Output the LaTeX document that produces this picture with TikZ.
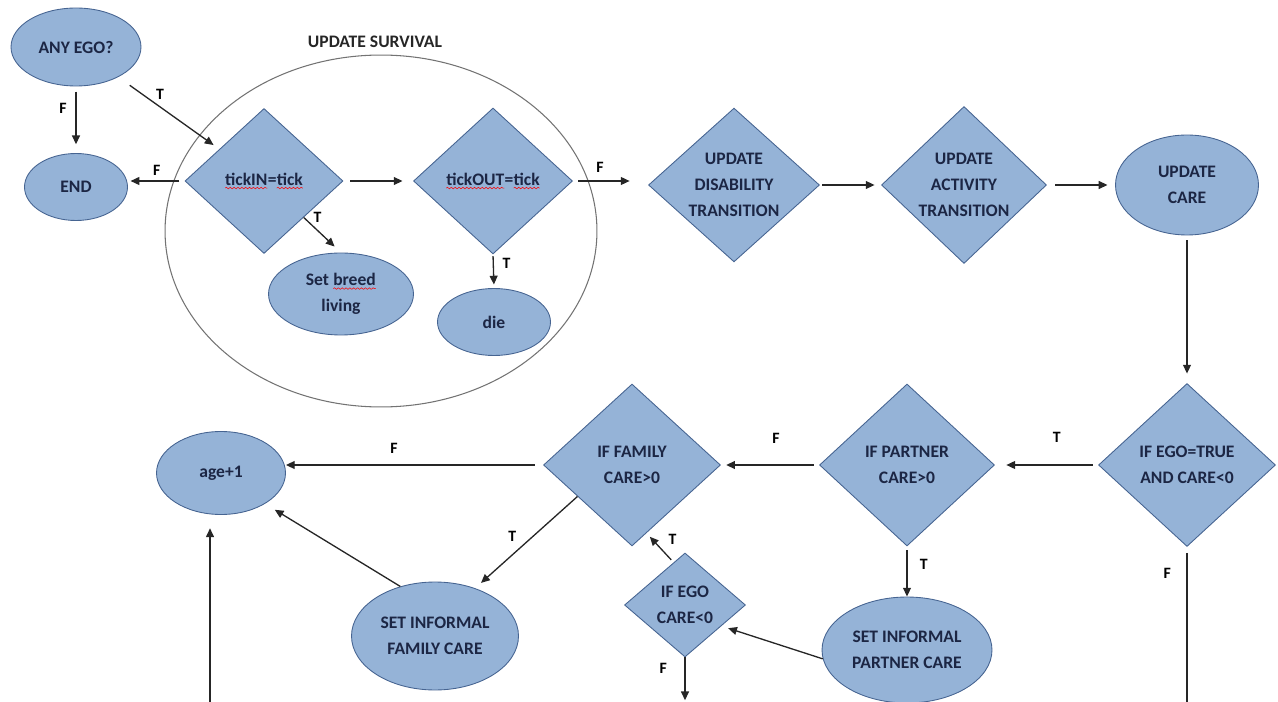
\documentclass[tikz,border=0pt]{standalone}
\usepackage{fontspec}
\setmainfont{Carlito}
\usetikzlibrary{shapes.geometric,arrows.meta,decorations.pathmorphing}
\definecolor{shapefill}{RGB}{149,179,215}
\definecolor{shapeline}{RGB}{70,100,145}
\definecolor{shapetext}{RGB}{28,38,68}
\newcommand{\spell}[1]{\tikz[baseline=(sp.base)]{\node[rectangle,draw=none,fill=none,inner sep=0pt,outer sep=0pt,minimum size=0pt] (sp) {#1};\draw[red,fill=none,line width=.3pt,decorate,decoration={snake,amplitude=.45pt,segment length=2.2pt}] ([yshift=-1.6pt]sp.base west) -- ([yshift=-1.6pt]sp.base east);}}
\begin{document}
\begin{tikzpicture}[x=0.02cm,y=-0.02cm,
    decision/.style={diamond,draw=shapeline,fill=shapefill,line width=.5pt,inner sep=0pt,
      text=shapetext,font=\bfseries\fontsize{10}{14.7}\selectfont,align=center},
    oval/.style={ellipse,draw=shapeline,fill=shapefill,line width=.5pt,inner sep=0pt,
      text=shapetext,font=\bfseries\fontsize{10}{14.7}\selectfont,align=center},
    flow/.style={-{Triangle[length=5pt,width=4.5pt]},line width=.75pt,draw=black!85},
    tf/.style={font=\bfseries\fontsize{9}{9}\selectfont,inner sep=1pt}]
  \useasboundingbox (0,0) rectangle (1278,702);
  \draw
    (381,231) node[ellipse,draw=black!55,line width=.6pt,minimum width=8.64cm,minimum height=7.04cm] (survival){}
    (375,42) node[font=\bfseries\fontsize{10}{12}\selectfont,text=black!85] (survlabel){UPDATE SURVIVAL};
  \draw
    (76,47) node[oval,minimum width=2.6cm,minimum height=1.56cm] (anyego){ANY EGO?}
    (76,187) node[oval,minimum width=2.06cm,minimum height=1.34cm] (endnode){END}
    (264,181) node[decision,minimum width=3.16cm,minimum height=2.9cm] (tickin){\spell{tickIN}=\spell{tick}}
    (493,181) node[decision,minimum width=3.18cm,minimum height=2.92cm] (tickout){\spell{tickOUT}=\spell{tick}}
    (341,294) node[oval,minimum width=2.9cm,minimum height=1.64cm] (breed){Set \spell{breed}\\living}
    (494,322) node[oval,minimum width=2.26cm,minimum height=1.34cm] (die){die}
    (734,185) node[decision,minimum width=3.42cm,minimum height=2.88cm] (disab){UPDATE\\DISABILITY\\TRANSITION}
    (964,185) node[decision,minimum width=3.3cm,minimum height=3.14cm] (activ){UPDATE\\ACTIVITY\\TRANSITION}
    (1187,185) node[oval,minimum width=2.86cm,minimum height=2cm] (care){UPDATE\\CARE}
    (1187,465) node[decision,minimum width=3.54cm,minimum height=3.26cm] (egotrue){IF EGO=TRUE\\AND CARE<0}
    (907,465) node[decision,minimum width=3.5cm,minimum height=3.24cm] (partner){IF PARTNER\\CARE>0}
    (632,465) node[decision,minimum width=3.54cm,minimum height=3.24cm] (family){IF FAMILY\\CARE>0}
    (221,473) node[oval,minimum width=2.58cm,minimum height=1.66cm] (age){age+1}
    (435,636) node[oval,minimum width=3.34cm,minimum height=2.16cm] (setfam){SET INFORMAL\\FAMILY CARE}
    (685,605) node[decision,minimum width=2.42cm,minimum height=2.08cm] (egocare){IF EGO\\CARE<0}
    (907,650) node[oval,minimum width=3.4cm,minimum height=2.12cm] (setpartner){SET INFORMAL\\PARTNER CARE};
  \coordinate (egoout) at (685,702);
  \coordinate (carefout) at (1187,702);
  \coordinate (agein) at (210,702);
  \begin{scope}[flow]
    \draw[shorten <=3pt,shorten >=5pt] (anyego.south) to node[tf,left=4pt,pos=.33]{F} (endnode.north);
    \draw[shorten <=8pt,shorten >=4pt] (anyego) to node[tf,above right,pos=.35]{T} (tickin);
    \draw[shorten <=3pt,shorten >=1.5pt] (tickin.west) to node[tf,above=1.5pt,pos=.49]{F} (endnode.east |- tickin.west);
    \draw[shorten <=4pt,shorten >=6pt] (tickin) to (tickout);
    \draw[shorten >=5pt] (tickin.south east) to node[tf,above right,pos=.2]{T} (breed.north);
    \draw[shorten <=1pt,shorten >=2pt] (tickout.south) to node[tf,right=4pt,pos=.26]{T} (die.north);
    \draw[shorten <=3pt,shorten >=10.5pt] (tickout.east) to node[tf,above=3.7pt,pos=.36]{F} (disab.west |- tickout.east);
    \draw[shorten <=1.4pt,shorten >=3.7pt] (disab) to (activ);
    \draw[shorten <=4.8pt,shorten >=4.3pt] (activ) to (care);
    \draw[shorten <=2.8pt,shorten >=5.4pt] (care) to (egotrue);
    \draw[shorten <=3pt,shorten >=6.5pt] (egotrue) to node[tf,above=11.7pt,pos=.4]{T} (partner);
    \draw[shorten <=3pt,shorten >=3pt] (partner) to node[tf,above=11pt,pos=.44]{F} (family);
    \draw[shorten <=4.8pt] (family.west) to node[tf,above=5.4pt,pos=.58]{F} (age.east |- family.west);
    \draw[shorten >=4.5pt] (family.210) to node[tf,above left=1.5pt,pos=.55]{T} (setfam.50);
    \draw[shorten >=6.5pt] (setfam.125) to (age.-35);
    \draw[shorten <=2pt,shorten >=2.8pt] (egocare.105) to node[tf,above right=2pt,pos=.4]{T} (family.-78);
    \draw[shorten <=2.3pt] (partner) to node[tf,right=6pt,pos=.35]{T} (setpartner);
    \draw[shorten >=4pt] (setpartner.186) to (egocare.-30);
    \draw[shorten >=1pt] (egocare.south) to node[tf,left=9pt,pos=.25]{F} (egoout);
    \draw[-,shorten <=3.4pt] (egotrue) to node[tf,left=7.8pt,pos=.17]{F} (carefout);
    \draw[shorten >=7.6pt] (agein) to (age.south -| agein);
  \end{scope}
\end{tikzpicture}
\end{document}
